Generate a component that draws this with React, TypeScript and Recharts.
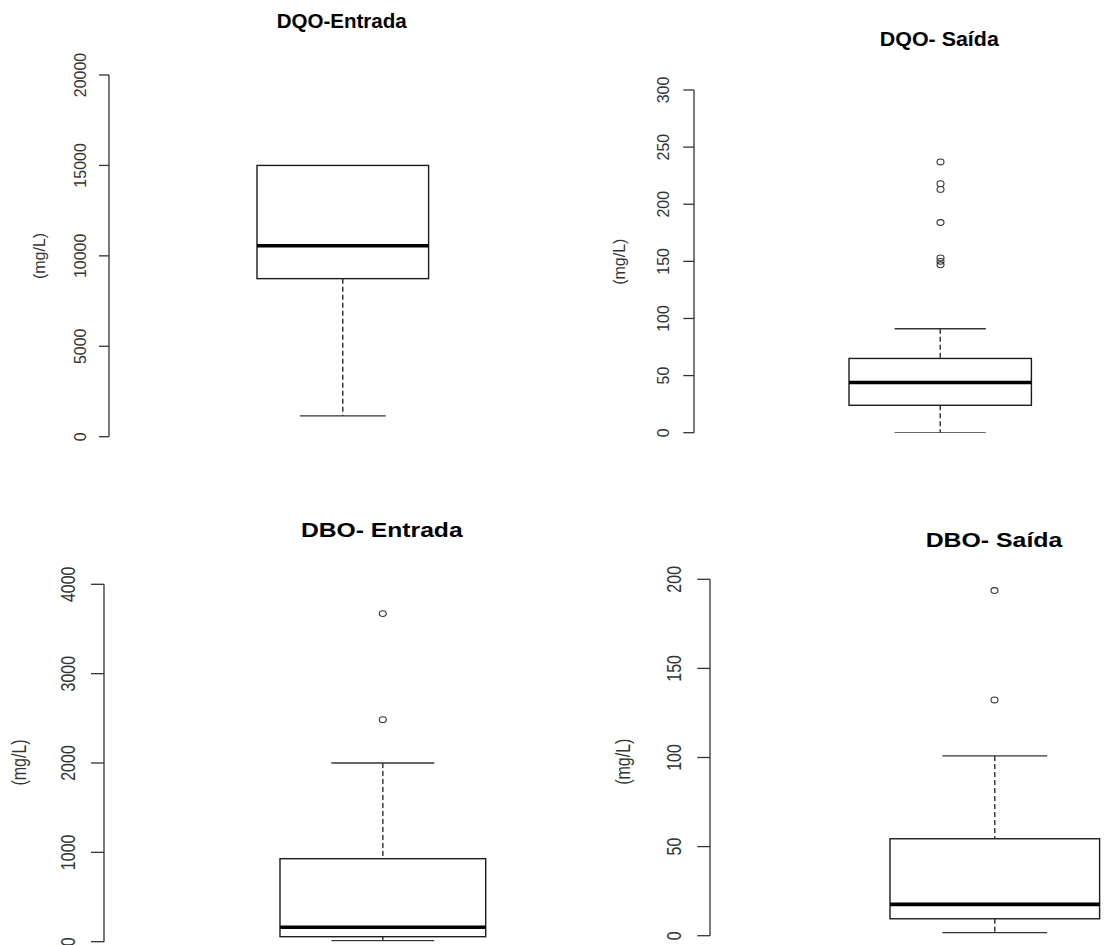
import React from "react";
import { ComposedChart, Bar, Scatter, XAxis, YAxis, Label } from "recharts";

// ---------- data ----------
const titles = ["DQO-Entrada", "DQO- Saída", "DBO- Entrada", "DBO- Saída"];
const yLabel = "(mg/L)";

const dqoEntradaStats = { min: 1150, q1: 8740, median: 10560, q3: 15000, max: 15000 };
const dqoEntradaOutliers: number[] = [];
const dqoEntradaTicks = [0, 5000, 10000, 15000, 20000];

const dqoSaidaStats = { min: 0, q1: 24, median: 44, q3: 65, max: 91 };
const dqoSaidaOutliers = [237, 218, 213, 184, 153, 150, 147];
const dqoSaidaTicks = [0, 50, 100, 150, 200, 250, 300];

const dboEntradaStats = { min: 11, q1: 56, median: 161, q3: 929, max: 2000 };
const dboEntradaOutliers = [3672, 2485];
const dboEntradaTicks = [0, 1000, 2000, 3000, 4000];

const dboSaidaStats = { min: 1.7, q1: 9.5, median: 17.6, q3: 54.4, max: 100.9 };
const dboSaidaOutliers = [193.7, 132.3];
const dboSaidaTicks = [0, 50, 100, 150, 200];

const FONT = "'Liberation Sans', Arial, Helvetica, sans-serif";
const INK = "#1c1c1c";
const AXIS = "#333";

type Stats = { min: number; q1: number; median: number; q3: number; max: number };

type PanelCfg = {
  title: string;
  stats: Stats;
  outliers: number[];
  ticks: number[];
  left: number;
  top: number;
  height: number;
  axisX: number;
  plotTop: number;
  plotBottom: number;
  boxCenter: number;
  boxWidth: number;
  tickSize: number;
  tickBaseline: number;
  tickScaleX: number;
  labelBaseline: number;
  labelCenterY: number;
  labelScaleX: number;
  titleX: number;
  titleY: number;
  titleLen: number;
};

const BoxShape = (props: any) => {
  const { x, y, width, height, payload } = props;
  const s: Stats = payload.stats;
  const top = Math.min(y, y + height);
  const h = Math.abs(height);
  const span = s.max - s.min;
  const ppu = span > 0 ? h / span : 0;
  const py = (v: number) => top + (s.max - v) * ppu;
  const cx = x + width / 2;
  const capHalf = width / 4;
  const yMax = py(s.max);
  const yMin = py(s.min);
  const yQ3 = py(s.q3);
  const yQ1 = py(s.q1);
  const yMed = py(s.median);
  return (
    <g>
      {yMax < yQ3 - 0.5 && (
        <>
          <line x1={cx} x2={cx} y1={yMax} y2={yQ3} stroke={INK} strokeWidth={1.3} strokeDasharray="5 3" />
          <line x1={cx - capHalf} x2={cx + capHalf} y1={yMax} y2={yMax} stroke={AXIS} strokeWidth={1.3} />
        </>
      )}
      <line x1={cx} x2={cx} y1={yQ1} y2={yMin} stroke={INK} strokeWidth={1.3} strokeDasharray="5 3" />
      <line x1={cx - capHalf} x2={cx + capHalf} y1={yMin} y2={yMin} stroke={AXIS} strokeWidth={1.3} />
      <rect x={x} y={yQ3} width={width} height={yQ1 - yQ3} fill="none" stroke={INK} strokeWidth={1.4} />
      <line x1={x} x2={x + width} y1={yMed} y2={yMed} stroke="#000" strokeWidth={3.6} />
    </g>
  );
};

const OutlierShape = (props: any) => {
  const { cx, cy } = props;
  if (cx == null || cy == null) return null;
  return <ellipse cx={cx} cy={cy} rx={3.5} ry={2.9} fill="none" stroke={AXIS} strokeWidth={1.1} />;
};

const Panel = ({ c }: { c: PanelCfg }) => {
  const plotRight = 2 * c.boxCenter - c.axisX;
  const width = plotRight - c.left;
  const yAxisWidth = c.axisX - c.left;
  const data = [{ name: "g", range: [c.stats.min, c.stats.max], stats: c.stats }];
  const outlierData = c.outliers.map((v) => ({ name: "g", v }));
  const domainMax = c.ticks[c.ticks.length - 1];
  const bxLocal = c.tickBaseline - c.left;
  const Tick = (p: any) => {
    const { y, payload } = p;
    return (
      <text
        transform={`translate(${bxLocal},${y}) scale(${c.tickScaleX},1) rotate(-90)`}
        x={0}
        y={0}
        textAnchor="middle"
        fontSize={16}
        fontFamily={FONT}
        fill={AXIS}
      >
        {payload.value}
      </text>
    );
  };
  const lx = c.labelBaseline - c.left;
  const ly = c.labelCenterY - c.top;
  return (
    <div style={{ position: "absolute", left: c.left, top: c.top }}>
      <ComposedChart
        width={width}
        height={c.height}
        data={data}
        margin={{ top: c.plotTop - c.top, bottom: c.top + c.height - c.plotBottom, left: 0, right: 0 }}
      >
        <XAxis dataKey="name" type="category" allowDuplicatedCategory={false} hide />
        <YAxis
          type="number"
          domain={[0, domainMax]}
          ticks={c.ticks}
          width={yAxisWidth}
          tickSize={c.tickSize}
          tickMargin={0}
          tick={<Tick />}
          interval={0}
          axisLine={{ stroke: AXIS, strokeWidth: 1.3 }}
          tickLine={{ stroke: AXIS, strokeWidth: 1.3 }}
          allowDataOverflow
        >
          <Label
            content={() => (
              <text
                transform={`translate(${lx},${ly}) scale(${c.labelScaleX},1) rotate(-90)`}
                x={0}
                y={0}
                textAnchor="middle"
                fontSize={16}
                fontFamily={FONT}
                fill={AXIS}
              >
                {yLabel}
              </text>
            )}
          />
        </YAxis>
        <Bar dataKey="range" barSize={c.boxWidth} shape={<BoxShape />} isAnimationActive={false} />
        <Scatter data={outlierData} dataKey="v" shape={<OutlierShape />} isAnimationActive={false} />
      </ComposedChart>
    </div>
  );
};

const panels: PanelCfg[] = [
  {
    title: titles[0], stats: dqoEntradaStats, outliers: dqoEntradaOutliers, ticks: dqoEntradaTicks,
    left: 0, top: 0, height: 470, axisX: 109, plotTop: 75, plotBottom: 436.7,
    boxCenter: 342.5, boxWidth: 171.6, tickSize: 10, tickBaseline: 86, tickScaleX: 1.08,
    labelBaseline: 45, labelCenterY: 256, labelScaleX: 1.05,
    titleX: 341.7, titleY: 28.3, titleLen: 130,
  },
  {
    title: titles[1], stats: dqoSaidaStats, outliers: dqoSaidaOutliers, ticks: dqoSaidaTicks,
    left: 580, top: 0, height: 470, axisX: 694, plotTop: 90, plotBottom: 432.7,
    boxCenter: 940.5, boxWidth: 182.4, tickSize: 10.7, tickBaseline: 669, tickScaleX: 1.08,
    labelBaseline: 625, labelCenterY: 261.7, labelScaleX: 1.05,
    titleX: 939.3, titleY: 45.7, titleLen: 119,
  },
  {
    title: titles[2], stats: dboEntradaStats, outliers: dboEntradaOutliers, ticks: dboEntradaTicks,
    left: 0, top: 480, height: 465, axisX: 104, plotTop: 584.3, plotBottom: 941.7,
    boxCenter: 382.8, boxWidth: 205.7, tickSize: 13, tickBaseline: 75.5, tickScaleX: 1.3,
    labelBaseline: 26, labelCenterY: 762.5, labelScaleX: 1.25,
    titleX: 381.8, titleY: 537.3, titleLen: 161.7,
  },
  {
    title: titles[3], stats: dboSaidaStats, outliers: dboSaidaOutliers, ticks: dboSaidaTicks,
    left: 580, top: 480, height: 465, axisX: 710, plotTop: 579.3, plotBottom: 935.7,
    boxCenter: 994.5, boxWidth: 209.6, tickSize: 12.7, tickBaseline: 681, tickScaleX: 1.3,
    labelBaseline: 630, labelCenterY: 761.7, labelScaleX: 1.25,
    titleX: 994, titleY: 546.7, titleLen: 136.7,
  },
];

export default function App() {
  return (
    <div
      style={{
        position: "absolute",
        left: 0,
        top: 0,
        width: 1107,
        height: 945,
        overflow: "hidden",
        background: "#fff",
      }}
    >
      {panels.map((c, i) => (
        <Panel key={i} c={c} />
      ))}
      <svg
        width={1107}
        height={945}
        style={{ position: "absolute", left: 0, top: 0, pointerEvents: "none" }}
      >
        {panels.map((c, i) => (
          <text
            key={i}
            x={c.titleX}
            y={c.titleY}
            textAnchor="middle"
            fontSize={20}
            fontWeight="bold"
            fontFamily={FONT}
            fill="#000"
            textLength={c.titleLen}
            lengthAdjust="spacingAndGlyphs"
          >
            {c.title}
          </text>
        ))}
      </svg>
    </div>
  );
}
